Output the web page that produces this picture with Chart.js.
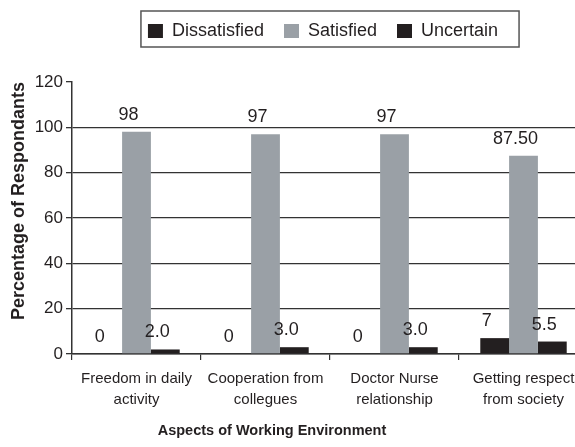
<!DOCTYPE html>
<html><head><meta charset="utf-8">
<script src="https://cdn.jsdelivr.net/npm/chart.js@4"></script>
<style>html,body{margin:0;padding:0;overflow:hidden;background:#fff;width:575px;height:447px}canvas{display:block}</style>
</head><body>
<canvas id="c" width="600" height="447"></canvas>
<script>
const categories = [["Freedom in daily","activity"],["Cooperation from","collegues"],["Doctor Nurse","relationship"],["Getting respect","from society"]];
const seriesNames = ["Dissatisfied","Satisfied","Uncertain"];
const dissatisfied = [0,0,0,7];
const satisfied = [98,97,97,87.5];
const uncertain = [2,3,3,5.5];
const dissatisfiedLabels = ["0","0","0","7"];
const satisfiedLabels = ["98","97","97","87.50"];
const uncertainLabels = ["2.0","3.0","3.0","5.5"];
const yMin = 0, yMax = 120, yStep = 20;
const yTitle = "Percentage of Respondants";
const xTitle = "Aspects of Working Environment";

const DARK = '#231f20', GRAY = '#9aa0a6', LINE = '#333333';
const FONT = "'Liberation Sans', Arial, sans-serif";
const allLabels = [dissatisfiedLabels, satisfiedLabels, uncertainLabels];

const valueLabelPlugin = {
  id: 'valueLabels',
  afterDatasetsDraw(chart) {
    const ctx = chart.ctx;
    ctx.save();
    ctx.font = "18px " + FONT;
    ctx.fillStyle = DARK;
    ctx.textAlign = 'center';
    ctx.textBaseline = 'alphabetic';
    chart.data.datasets.forEach((ds, di) => {
      const meta = chart.getDatasetMeta(di);
      meta.data.forEach((bar, i) => {
        ctx.fillText(allLabels[di][i], bar.x - 8, bar.y - 12);
      });
    });
    ctx.restore();
  }
};

const decorPlugin = {
  id: 'decor',
  afterLayout(chart) {
    if (chart.legend) { chart.legend.left -= 7; chart.legend.right -= 7; }
  },
  afterDraw(chart) {
    const ctx = chart.ctx;
    const hb = chart.legend.legendHitBoxes;
    if (hb && hb.length) {
      const l = Math.min(...hb.map(h => h.left)) - 7;
      const r = Math.max(...hb.map(h => h.left + h.width)) + 21;
      const cy = hb[0].top + hb[0].height / 2;
      ctx.save();
      ctx.strokeStyle = '#555';
      ctx.lineWidth = 1.5;
      ctx.strokeRect(l, cy - 20, r - l, 36);
      ctx.restore();
    }
    const ca = chart.chartArea;
    ctx.save();
    ctx.font = "bold 14.5px " + FONT;
    ctx.fillStyle = DARK;
    ctx.textAlign = 'center';
    ctx.textBaseline = 'middle';
    ctx.fillText(xTitle, ca.left + 200, ca.bottom + 77);
    ctx.restore();
  }
};

new Chart(document.getElementById('c'), {
  type: 'bar',
  data: {
    labels: categories,
    datasets: [
      { label: seriesNames[0], data: dissatisfied, backgroundColor: DARK },
      { label: seriesNames[1], data: satisfied, backgroundColor: GRAY },
      { label: seriesNames[2], data: uncertain, backgroundColor: DARK }
    ]
  },
  options: {
    responsive: false,
    animation: false,
    devicePixelRatio: 1,
    layout: { padding: { top: 2, left: 4, right: 12, bottom: 29 } },
    datasets: { bar: { categoryPercentage: 0.67, barPercentage: 1.0 } },
    plugins: {
      legend: {
        position: 'top',
        fullSize: false,
        labels: {
          boxWidth: 15, boxHeight: 14, padding: 20,
          color: DARK,
          font: { size: 18, family: FONT }
        }
      },
      title: {
        display: true, text: '', position: 'top', weight: 500, fullSize: false,
        font: { size: 10, lineHeight: 1 }, padding: { top: 0, bottom: 22 }
      },
      tooltip: { enabled: false }
    },
    scales: {
      x: {
        grid: { display: true, drawOnChartArea: false, offset: true, color: LINE, tickLength: 6, lineWidth: 1.2 },
        border: { color: LINE, width: 1.5 },
        ticks: { color: DARK, font: { size: 15, family: FONT, lineHeight: 1.4 }, padding: 8, maxRotation: 0, autoSkip: false }
      },
      y: {
        min: yMin, max: yMax,
        afterFit(s) { s.width = 68; },
        grid: {
          color: (c) => (c.tick && c.tick.value === yMax) ? 'rgba(0,0,0,0)' : LINE,
          tickColor: LINE, tickLength: 6, lineWidth: 1.3
        },
        border: { color: LINE, width: 1.5 },
        ticks: { stepSize: yStep, color: DARK, font: { size: 17, family: FONT }, padding: 3 },
        title: { display: true, text: yTitle, align: 'end', color: DARK, font: { size: 18, weight: 'bold', family: FONT }, padding: { top: 4, bottom: 2 } }
      }
    }
  },
  plugins: [valueLabelPlugin, decorPlugin]
});
</script>
</body></html>
